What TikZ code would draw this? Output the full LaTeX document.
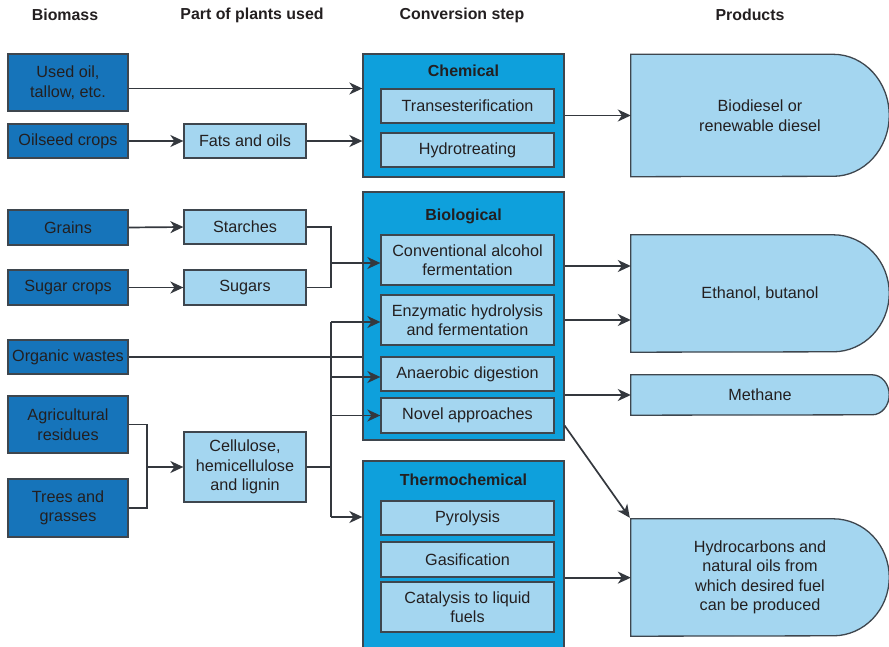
\documentclass[tikz,border=0pt]{standalone}
\usepackage{fontspec}
\setmainfont{Liberation Sans}
\usetikzlibrary{arrows.meta,backgrounds}

\definecolor{srcblue}{RGB}{22,116,186}
\definecolor{stepblue}{RGB}{14,160,220}
\definecolor{paleblue}{RGB}{164,214,240}
\definecolor{edgegray}{RGB}{62,70,78}
\definecolor{linkgray}{RGB}{52,56,62}
\definecolor{inkc}{RGB}{35,31,32}

\begin{document}
\begin{tikzpicture}[x=1pt,y=-1pt,
  every node/.style={font=\fontsize{16.2}{19.5}\selectfont, text=inkc, align=center, inner sep=0pt},
  box/.style={draw=edgegray, line width=1.3pt},
  srcbox/.style={box, fill=srcblue, minimum width=120pt},
  partbox/.style={box, fill=paleblue, minimum width=122pt},
  stepgroup/.style={box, fill=stepblue, minimum width=201pt},
  stepbox/.style={box, fill=paleblue, minimum width=173pt},
  grouptitle/.style={font=\fontsize{16}{19.5}\selectfont\bfseries},
  header/.style={font=\fontsize{15.9}{19.5}\selectfont\bfseries},
  prodnode/.style={minimum width=258pt},
  prodshape/.style={draw=edgegray, line width=1.3pt, fill=paleblue},
  link/.style={draw=linkgray, line width=1.7pt},
  arr/.style={link, -{Stealth[length=13pt,width=12pt,inset=4pt]}}
]
\useasboundingbox (0,0) rectangle (889,647);

% column headers
\node[header] (hBiomass) at (65,15) {Biomass};
\node[header] (hParts) at (252,15) {Part of plants used};
\node[header] (hStep) at (462,15) {Conversion step};
\node[header] (hProd) at (750,15) {Products};

% biomass sources
\node[srcbox, minimum height=57pt] (usedoil) at (68,82.5) {Used oil,\\tallow, etc.};
\node[srcbox, minimum height=34pt] (oilseed) at (68,141) {Oilseed crops};
\node[srcbox, minimum height=35pt] (grains) at (68,227.5) {Grains};
\node[srcbox, minimum height=35pt] (sugarcrops) at (68,287.5) {Sugar crops};
\node[srcbox, minimum height=34pt] (organic) at (68,357) {Organic wastes};
\node[srcbox, minimum height=57pt] (agri) at (68,424.5) {Agricultural\\residues};
\node[srcbox, minimum height=58pt] (trees) at (68,508) {Trees and\\grasses};

% plant fractions
\node[partbox, minimum height=34pt] (fats) at (245,141) {Fats and oils};
\node[partbox, minimum height=34pt] (starches) at (245,227) {Starches};
\node[partbox, minimum height=35pt] (sugars) at (245,287.5) {Sugars};
\node[partbox, minimum height=70pt] (cell) at (245,467) {Cellulose,\\hemicellulose\\and lignin};

% conversion groups
\node[stepgroup, minimum height=123pt] (chem) at (463.5,115.5) {};
\node[stepgroup, minimum height=248pt] (bio) at (463.5,316) {};
\node[stepgroup, minimum height=200pt] (thermo) at (463.5,561) {};

\node[grouptitle] (chemT) at (463.5,71) {Chemical};
\node[grouptitle] (bioT) at (463.5,216) {Biological};
\node[grouptitle] (thermoT) at (463.5,480) {Thermochemical};

\node[stepbox, minimum height=34pt] (trans) at (467.5,106) {Transesterification};
\node[stepbox, minimum height=34pt] (hydrot) at (467.5,150) {Hydrotreating};

\node[stepbox, minimum height=50pt] (conv) at (467.5,260) {Conventional alcohol\\fermentation};
\node[stepbox, minimum height=50pt] (enz) at (467.5,320) {Enzymatic hydrolysis\\and fermentation};
\node[stepbox, minimum height=34pt] (anaer) at (467.5,374) {Anaerobic digestion};
\node[stepbox, minimum height=35pt] (novel) at (467.5,415.5) {Novel approaches};

\node[stepbox, minimum height=34pt] (pyro) at (467.5,518) {Pyrolysis};
\node[stepbox, minimum height=35pt] (gasif) at (467.5,559.5) {Gasification};
\node[stepbox, minimum height=50pt] (catal) at (467.5,607) {Catalysis to liquid\\fuels};

% products
\node[prodnode, minimum height=122pt] (biod) at (760,115.5) {Biodiesel or\\renewable diesel};
\node[prodnode, minimum height=117pt] (eth) at (760,293.5) {Ethanol, butanol};
\node[prodnode, minimum height=40pt] (meth) at (760,395) {Methane};
\node[prodnode, minimum height=117pt] (hydc) at (760,577.5) {Hydrocarbons and\\natural oils from\\which desired fuel\\can be produced};

% product outlines: flat left side, rounded right end
\begin{pgfonlayer}{background}
  \foreach \p/\rx/\ry in {biod/56/61, eth/56/58.5, meth/17/20, hydc/56/58.5}{
    \path[prodshape] (\p.north west) -- ([xshift=-\rx pt]\p.north east)
      arc[start angle=90, end angle=-90, x radius=\rx pt, y radius=\ry pt]
      -- (\p.south west) -- cycle;
  }
\end{pgfonlayer}

% junction points
\coordinate (jOil) at (331,263);
\coordinate (jRes) at (147,467);
\coordinate (bus) at (331,467);
\coordinate (thermoIn) at (331,517);

% feeds into the chemical route
\draw[arr] ([yshift=-6pt]usedoil.east) -- ([yshift=-6pt]usedoil.east -| chem.west);
\draw[arr] (oilseed.east) -- (fats.west);
\draw[arr] (fats.east) -- (fats.east -| chem.west);
\draw[arr] (chem.east) -- (chem.east -| biod.west);

% sources to plant fractions
\draw[arr] (grains.east) -- (starches.west);
\draw[arr] (sugarcrops.east) -- (sugars.west);
\draw[link] (agri.east) -| (jRes);
\draw[link] (trees.east) -| (jRes);
\draw[arr] (jRes) -- (cell.west);

% sugars and starches into fermentation
\draw[link] (starches.east) -| (jOil);
\draw[link] (sugars.east) -| (jOil);
\draw[arr] (jOil) -- (jOil -| conv.west);

% organic wastes reach the biological group
\draw[link] (organic.east) -- (organic.east -| bio.west);

% lignocellulose distribution
\draw[link] (cell.east) -- (bus);
\draw[link] ([yshift=-2pt]bus |- enz.west) -- (thermoIn);
\draw[arr] ([yshift=-2pt]bus |- enz.west) -- ([yshift=-2pt]enz.west);
\draw[arr] ([yshift=-3pt]bus |- anaer.west) -- ([yshift=-3pt]anaer.west);
\draw[arr] (bus |- novel.west) -- (novel.west);
\draw[arr] (thermoIn) -- (thermoIn -| thermo.west);

% outputs
\draw[arr] ([yshift=-6pt]bio.east |- conv.east) -- ([yshift=-6pt]eth.west |- conv.east);
\draw[arr] (bio.east |- enz.east) -- (eth.west |- enz.east);
\draw[arr] (bio.east |- meth.west) -- (meth.west);
\draw[arr] ([yshift=15pt]bio.south east) -- ([xshift=-1pt,yshift=1pt]hydc.north west);
\draw[arr] (thermo.east |- gasif.south) -- (hydc.west |- gasif.south);
\end{tikzpicture}
\end{document}
